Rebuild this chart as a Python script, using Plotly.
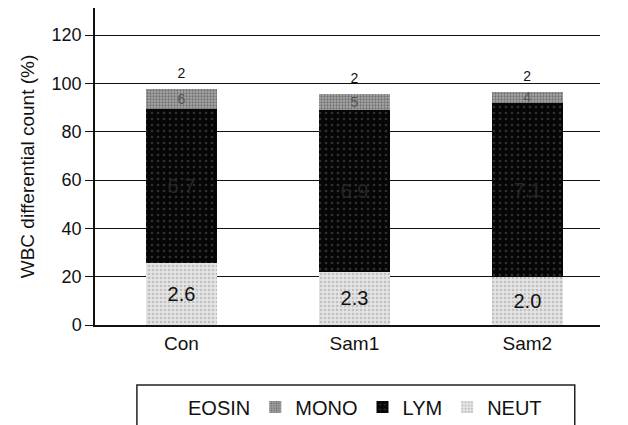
import plotly.graph_objects as go

categories = ["Con", "Sam1", "Sam2"]
neut = [25.5, 22, 20]
lym = [64, 67, 72]
mono = [8.2, 6.7, 4.5]
eosin = [2, 2, 2]
neut_labels = ["2.6", "2.3", "2.0"]
lym_labels = ["6.7", "6.9", "7.1"]
mono_labels = ["6", "5", "4"]
eosin_labels = ["2", "2", "2"]
y_ticks = [0, 20, 40, 60, 80, 100, 120]

FONT = "Liberation Sans, Arial, sans-serif"

common = dict(textposition="inside", insidetextanchor="middle", constraintext="none", textangle=0)

fig = go.Figure()
fig.add_trace(go.Bar(
    x=categories, y=neut, name="NEUT", text=neut_labels, **common,
    textfont=dict(size=20, color="#111"),
    marker=dict(color="#d8d8d8", line=dict(width=0),
                pattern=dict(shape=".", bgcolor="#e4e4e4", fgcolor="#9a9a9a", size=4, solidity=0.35)),
))
fig.add_trace(go.Bar(
    x=categories, y=lym, name="LYM", text=lym_labels, **common,
    textfont=dict(size=20, color="#262626"),
    marker=dict(color="#080808", line=dict(width=0),
                pattern=dict(shape=".", bgcolor="#060606", fgcolor="#5a5a5a", size=6, solidity=0.15)),
))
fig.add_trace(go.Bar(
    x=categories, y=mono, name="MONO", text=mono_labels, **common,
    textfont=dict(size=14, color="#555"),
    marker=dict(color="#8a8a8a", line=dict(width=0),
                pattern=dict(shape=".", bgcolor="#a8a8a8", fgcolor="#3a3a3a", size=3, solidity=0.45)),
))
fig.add_trace(go.Bar(
    x=categories, y=eosin, name="EOSIN", text=eosin_labels,
    textposition="outside", constraintext="none", textangle=0, cliponaxis=False,
    textfont=dict(size=14, color="#111"),
    marker=dict(color="white", line=dict(width=0)),
))

fig.update_layout(
    barmode="stack",
    bargap=0.59,
    width=628, height=425,
    margin=dict(l=95, r=28, t=8, b=100, autoexpand=False),
    paper_bgcolor="white", plot_bgcolor="white",
    font=dict(family=FONT, color="#111", size=17),
    showlegend=True,
    legend=dict(orientation="h", x=0.105, xanchor="left", y=-0.259, yanchor="middle",
                traceorder="reversed", font=dict(size=20, family=FONT),
                bgcolor="rgba(0,0,0,0)", itemwidth=30, itemsizing="constant"),
    shapes=[dict(type="rect", xref="paper", yref="paper", x0=0.083, x1=0.95, y0=-0.40, y1=-0.189,
                 line=dict(color="#222", width=1.5), fillcolor="rgba(0,0,0,0)")],
)
fig.update_yaxes(
    range=[0, 131.2], tickvals=y_ticks, showgrid=True, gridcolor="#111", gridwidth=1.2,
    showline=True, linecolor="#111", linewidth=1.5, ticks="outside", ticklen=8, tickcolor="#111",
    zeroline=False, tickfont=dict(size=18), automargin=False,
    title=dict(text="WBC differential count (%)", font=dict(size=19), standoff=12),
)
fig.update_xaxes(
    range=[-0.5, 2.42], showline=True, linecolor="#111", linewidth=1.5, ticks="",
    tickfont=dict(size=19), automargin=False,
)

fig.write_html("out.html", config={"displayModeBar": False},
               post_script="document.body.style.margin='0';")
